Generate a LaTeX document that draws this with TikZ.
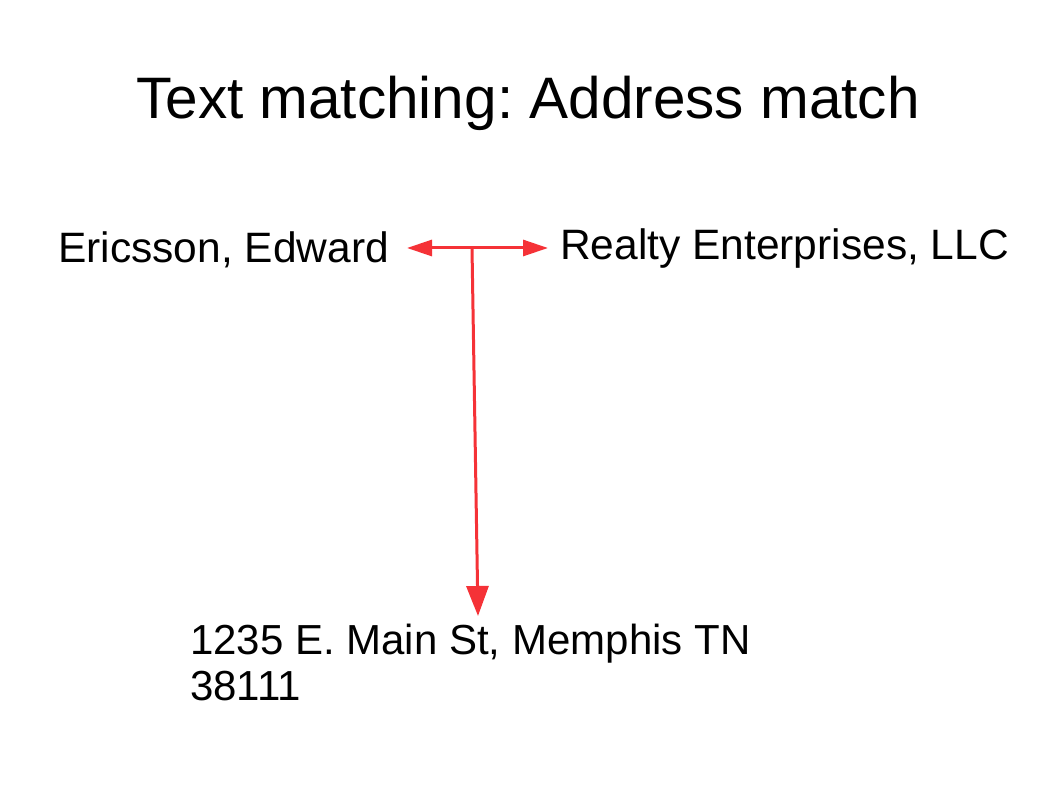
\documentclass[tikz,border=0pt]{standalone}
\usepackage{fontspec}
\setmainfont{Liberation Sans}
\usetikzlibrary{arrows.meta}
\definecolor{linkred}{RGB}{245,50,55}
\frenchspacing

\begin{document}
\begin{tikzpicture}[x=1pt,y=-1pt]
\tikzstyle{every node}+=[inner sep=0pt]
\tikzstyle{label}=[anchor=base west,font=\fontsize{42.5}{46}\selectfont]
\tikzstyle{link}=[linkred,line width=3pt,-{Triangle[length=24pt,width=15pt]}]
\useasboundingbox (0,0) rectangle (1058,794);
\node (title) [anchor=base,font=\fontsize{58.5}{64}\selectfont] at (528,119) {Text matching: Address match};
\node (eric) [label] at (58,263) {Ericsson, Edward};
\node (realty) [label] at (560,260) {Realty Enterprises, LLC};
\node (addr) [label,font=\fontsize{42}{46}\selectfont,align=left,anchor=north west] at (190,624) {1235 E. Main St, Memphis TN\\38111};
\coordinate (ericend) at (407,248);
\coordinate (realtyend) at (548,248);
\coordinate (split) at (472,248);
\coordinate (addrend) at (478,616);
\draw [link,{Triangle[length=25pt,width=16pt]}-{Triangle[length=25pt,width=16pt]}] (ericend) -- (realtyend);
\draw [link,-{Triangle[length=30pt,width=22pt]}] (split) -- (addrend);
\end{tikzpicture}
\end{document}
